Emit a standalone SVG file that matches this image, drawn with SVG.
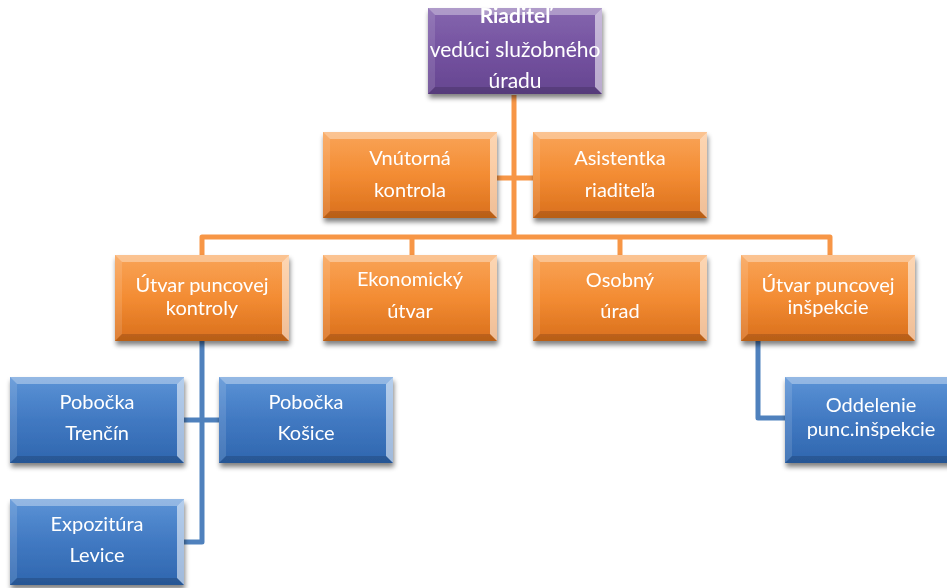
<svg xmlns="http://www.w3.org/2000/svg" xmlns:xlink="http://www.w3.org/1999/xlink" width="947" height="588" viewBox="0 0 947 588">
<style>
.t{font-family:Lato,"Liberation Sans",sans-serif;font-size:20px;fill:#ffffff;text-anchor:middle}
.d{font-size:21px}
.b{font-weight:bold}
.oc{fill:none;stroke:#F79646;stroke-width:5;stroke-linejoin:round}
.bc{fill:none;stroke:#4F81BD;stroke-width:5;stroke-linejoin:round}
</style>
<defs>
<linearGradient id="go" x1="0" y1="0" x2="0" y2="1">
<stop offset="0" stop-color="#F9A458"/><stop offset="0.5" stop-color="#F38C33"/><stop offset="1" stop-color="#D96F1C"/>
</linearGradient>
<linearGradient id="gb" x1="0" y1="0" x2="0" y2="1">
<stop offset="0" stop-color="#5B93D6"/><stop offset="0.5" stop-color="#4179C2"/><stop offset="1" stop-color="#2F66AE"/>
</linearGradient>
<linearGradient id="gp" x1="0" y1="0" x2="0" y2="1">
<stop offset="0" stop-color="#8566AE"/><stop offset="0.5" stop-color="#7452A0"/><stop offset="1" stop-color="#664690"/>
</linearGradient>
<filter id="sh" x="-10%" y="-10%" width="125%" height="130%">
<feGaussianBlur in="SourceAlpha" stdDeviation="2.5"/>
<feOffset dx="1" dy="4" result="o"/>
<feComponentTransfer><feFuncA type="linear" slope="0.5"/></feComponentTransfer>
<feMerge><feMergeNode/><feMergeNode in="SourceGraphic"/></feMerge>
</filter>
<g id="bev">
<polygon points="0,0 174,0 167,7 7,7" fill="#ffffff" fill-opacity="0.35"/>
<polygon points="0,0 7,7 7,79 0,86" fill="#ffffff" fill-opacity="0.12"/>
<polygon points="174,0 174,86 167,79 167,7" fill="#ffffff" fill-opacity="0.55"/>
<polygon points="0,86 7,79 167,79 174,86" fill="#000000" fill-opacity="0.15"/>
</g>
<rect id="bo" width="174" height="86" fill="url(#go)"/>
<rect id="bb" width="174" height="86" fill="url(#gb)"/>
<rect id="bp" width="174" height="86" fill="url(#gp)"/>
</defs>
<rect width="947" height="588" fill="#ffffff"/>

<g id="connectors">
<path class="oc" d="M514,95 V237"/>
<path class="oc" d="M497,178 H533"/>
<path class="oc" d="M202,255 V237 H830 V255"/>
<path class="oc" d="M412,237 V255"/>
<path class="oc" d="M620,237 V255"/>
<path class="bc" d="M202,340 V542 H183"/>
<path class="bc" d="M183,420 H220"/>
<path class="bc" d="M758,340 V418 H785"/>
</g>

<g id="n-riaditel" filter="url(#sh)">
<use href="#bp" x="428" y="8"/><use href="#bev" x="428" y="8"/>
<text class="t d b" x="515" y="23">Riaditeľ</text>
<text class="t d" x="515" y="57">vedúci služobného</text>
<text class="t d" x="515" y="88">úradu</text>
</g>

<g id="n-vnutorna" filter="url(#sh)">
<use href="#bo" x="323" y="132"/><use href="#bev" x="323" y="132"/>
<text class="t" x="410" y="165">Vnútorná</text>
<text class="t" x="410" y="197">kontrola</text>
</g>

<g id="n-asistentka" filter="url(#sh)">
<use href="#bo" x="533" y="132"/><use href="#bev" x="533" y="132"/>
<text class="t" x="620" y="165">Asistentka</text>
<text class="t" x="620" y="197">riaditeľa</text>
</g>

<g id="n-upk" filter="url(#sh)">
<use href="#bo" x="115" y="255"/><use href="#bev" x="115" y="255"/>
<text class="t" x="202" y="292">Útvar puncovej</text>
<text class="t" x="202" y="315">kontroly</text>
</g>

<g id="n-ekonomicky" filter="url(#sh)">
<use href="#bo" x="323" y="255"/><use href="#bev" x="323" y="255"/>
<text class="t" x="410" y="286">Ekonomický</text>
<text class="t" x="410" y="318">útvar</text>
</g>

<g id="n-osobny" filter="url(#sh)">
<use href="#bo" x="533" y="255"/><use href="#bev" x="533" y="255"/>
<text class="t" x="620" y="287">Osobný</text>
<text class="t" x="620" y="318">úrad</text>
</g>

<g id="n-upi" filter="url(#sh)">
<use href="#bo" x="741" y="255"/><use href="#bev" x="741" y="255"/>
<text class="t" x="828" y="292">Útvar puncovej</text>
<text class="t" x="828" y="314">inšpekcie</text>
</g>

<g id="n-trencin" filter="url(#sh)">
<use href="#bb" x="10" y="377"/><use href="#bev" x="10" y="377"/>
<text class="t" x="97" y="409">Pobočka</text>
<text class="t" x="97" y="440">Trenčín</text>
</g>

<g id="n-kosice" filter="url(#sh)">
<use href="#bb" x="219" y="377"/><use href="#bev" x="219" y="377"/>
<text class="t" x="306" y="409">Pobočka</text>
<text class="t" x="306" y="440">Košice</text>
</g>

<g id="n-levice" filter="url(#sh)">
<use href="#bb" x="10" y="499"/><use href="#bev" x="10" y="499"/>
<text class="t" x="97" y="531">Expozitúra</text>
<text class="t" x="97" y="562">Levice</text>
</g>

<g id="n-oddelenie" filter="url(#sh)">
<use href="#bb" x="785" y="377"/><use href="#bev" x="785" y="377"/>
<text class="t" x="871" y="412">Oddelenie</text>
<text class="t" x="871" y="436">punc.inšpekcie</text>
</g>
</svg>
